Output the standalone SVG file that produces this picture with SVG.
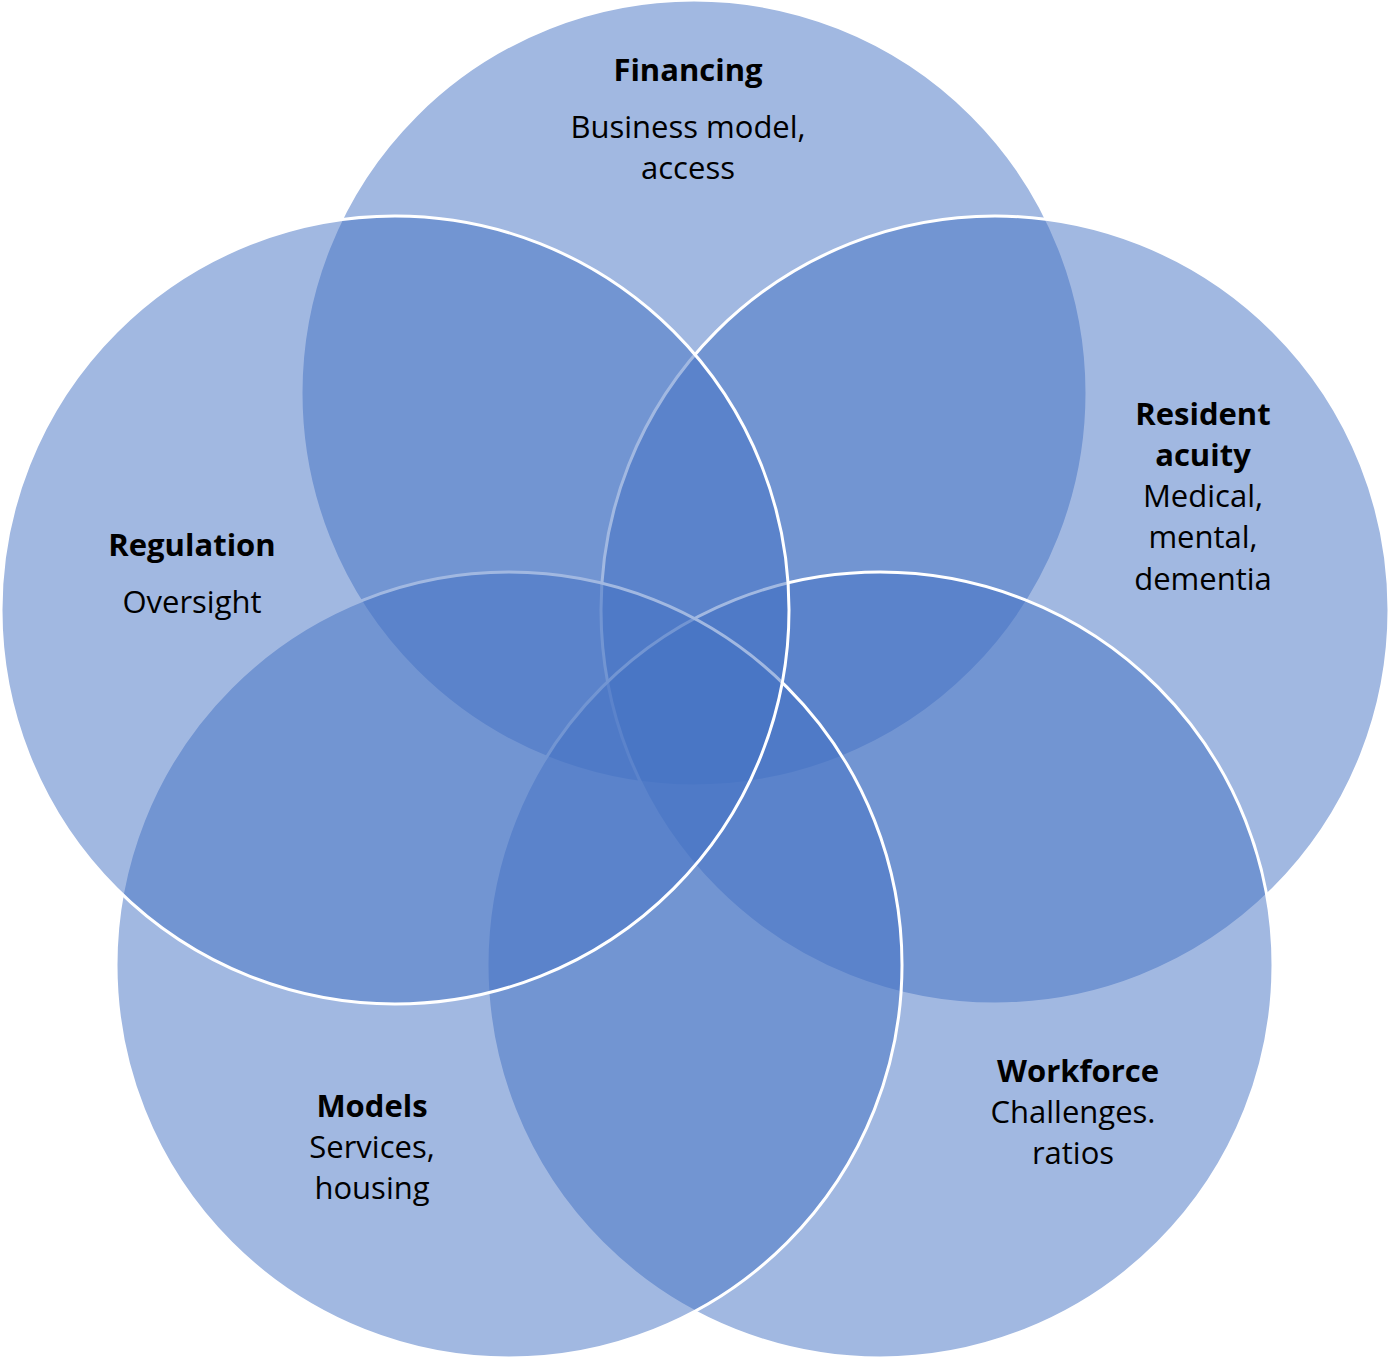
<svg xmlns="http://www.w3.org/2000/svg" width="1389" height="1359" viewBox="0 0 1389 1359">
<style>
.c{fill:#4472C4;fill-opacity:0.5;stroke:#FFFFFF;stroke-width:3}
text{font-family:"Open Sans","Liberation Sans",sans-serif;font-size:31px;fill:#000;text-anchor:middle}
.b{font-weight:bold}
</style>
<rect width="1389" height="1359" fill="#FFFFFF"/>
<g id="financing"><circle class="c" cx="694" cy="393" r="393"/></g>
<g id="resident-acuity"><circle class="c" cx="995" cy="610" r="394"/></g>
<g id="workforce"><circle class="c" cx="880" cy="965" r="393"/></g>
<g id="models"><circle class="c" cx="509" cy="965" r="393"/></g>
<g id="regulation"><circle class="c" cx="395" cy="610" r="394"/></g>
<g id="connectors"></g>
<g id="labels">
<text class="b" x="688" y="81">Financing</text>
<text x="688" y="138">Business model,</text>
<text x="688" y="179">access</text>
<text class="b" x="1203" y="425">Resident</text>
<text class="b" x="1203" y="466">acuity</text>
<text x="1203" y="507">Medical,</text>
<text x="1203" y="548">mental,</text>
<text x="1203" y="590">dementia</text>
<text class="b" x="192" y="556">Regulation</text>
<text x="192" y="613">Oversight</text>
<text class="b" x="372" y="1117">Models</text>
<text x="372" y="1158">Services,</text>
<text x="372" y="1199">housing</text>
<text class="b" x="1078" y="1082">Workforce</text>
<text x="1073" y="1123">Challenges.</text>
<text x="1073" y="1164">ratios</text>
</g>
</svg>
